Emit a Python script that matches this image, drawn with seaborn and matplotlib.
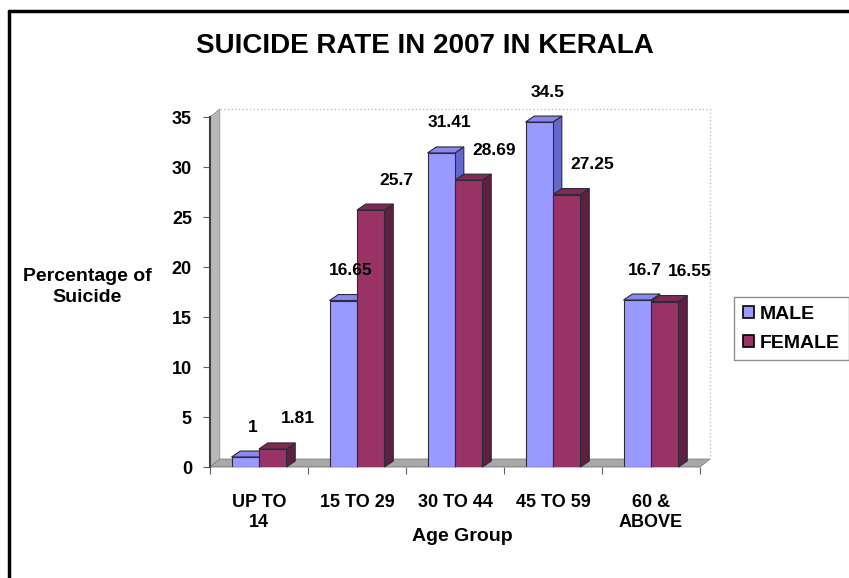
import pandas as pd
import matplotlib.pyplot as plt
import seaborn as sns
from matplotlib.patches import Polygon, Patch
from matplotlib.lines import Line2D

# chart values
age_groups = ['UP TO\n14', '15 TO 29', '30 TO 44', '45 TO 59', '60 &\nABOVE']
male = [1, 16.65, 31.41, 34.5, 16.7]
female = [1.81, 25.7, 28.69, 27.25, 16.55]
series = ['MALE', 'FEMALE']
colors = {'MALE': '#9999FF', 'FEMALE': '#993366'}
side_colors = {'MALE': '#6666CC', 'FEMALE': '#5E1F40'}
top_colors = {'MALE': '#8888EE', 'FEMALE': '#7E2A52'}

df = pd.DataFrame({
    'Age Group': age_groups * 2,
    'Sex': ['MALE'] * len(male) + ['FEMALE'] * len(female),
    'Value': male + female,
})

sns.set_style('white')
plt.rcParams['font.family'] = ['Liberation Sans', 'DejaVu Sans']
plt.rcParams['font.weight'] = 'bold'
for key in ['text.color', 'axes.labelcolor', 'xtick.color', 'ytick.color']:
    plt.rcParams[key] = 'black'

fig = plt.figure(figsize=(8.49, 5.78), dpi=100)
ax = fig.add_axes([0.2473, 0.192, 0.5772, 0.6055])

sns.barplot(data=df, x='Age Group', y='Value', hue='Sex', palette=colors,
            saturation=1, width=0.56, edgecolor='#2a2a3a', linewidth=0.8,
            legend=False, ax=ax, zorder=3)

ax.set_xlim(-0.5, 4.5)
ax.set_ylim(0, 35)

# walls of the 3D box
wdx, wdy = 0.1, 0.8
ax.add_patch(Polygon([(-0.5, 0), (-0.5 + wdx, wdy), (-0.5 + wdx, 35 + wdy), (-0.5, 35)],
                     closed=True, facecolor='#b8b8b8', edgecolor='#909090', lw=0.6,
                     clip_on=False, zorder=1))
ax.add_patch(Polygon([(-0.5, 0), (4.5, 0), (4.5 + wdx, wdy), (-0.5 + wdx, wdy)],
                     closed=True, facecolor='#a8a8a8', edgecolor='#808080', lw=0.6,
                     clip_on=False, zorder=1))
ax.add_patch(Polygon([(-0.5 + wdx, 35 + wdy), (4.5 + wdx, 35 + wdy), (4.5 + wdx, wdy)],
                     closed=False, fill=False, edgecolor='#c0c0c0', lw=1.0, ls=':',
                     clip_on=False, zorder=1))

# depth faces of the bars
bdx, bdy = 0.09, 0.6
for name, cont in zip(series, ax.containers):
    for bar in cont:
        x, w, h = bar.get_x(), bar.get_width(), bar.get_height()
        ax.add_patch(Polygon([(x + w, 0), (x + w + bdx, bdy), (x + w + bdx, h + bdy), (x + w, h)],
                             closed=True, facecolor=side_colors[name], edgecolor='#2a2a3a',
                             lw=0.8, clip_on=False, zorder=2))
        ax.add_patch(Polygon([(x, h), (x + bdx, h + bdy), (x + w + bdx, h + bdy), (x + w, h)],
                             closed=True, facecolor=top_colors[name], edgecolor='#2a2a3a',
                             lw=0.8, clip_on=False, zorder=2))

# value labels
label_dx = {'MALE': 0.08, 'FEMALE': 0.26}
for name, cont in zip(series, ax.containers):
    for bar in cont:
        h = bar.get_height()
        ax.text(bar.get_x() + bar.get_width() / 2 + label_dx[name], h + 3.0, f'{h:g}',
                ha='center', va='center', fontsize=12.5, fontweight='bold', clip_on=False)

for s in ['top', 'right', 'bottom']:
    ax.spines[s].set_visible(False)
ax.spines['left'].set_color('#404040')
ax.spines['left'].set_linewidth(1.5)

ax.set_yticks(range(0, 36, 5))
ax.set_xticks(range(5))
ax.set_xticks([i - 0.5 for i in range(6)], minor=True)
ax.tick_params(axis='y', which='major', left=True, length=5, width=0.8, color='#606060',
               labelsize=13, pad=8)
ax.tick_params(axis='x', which='major', bottom=False, labelsize=13, pad=16)
ax.tick_params(axis='x', which='minor', bottom=True, length=5, width=0.8, color='#606060')
for lbl in ax.get_xticklabels() + ax.get_yticklabels():
    lbl.set_fontweight('bold')
ax.axhline(0, color='#707070', lw=1, zorder=1)

ax.set_xlabel('')
ax.set_ylabel('')
fig.text(0.544, 0.071, 'Age Group', ha='center', va='center', fontsize=14, fontweight='bold')
fig.text(0.1025, 0.503, 'Percentage of\nSuicide', ha='center', va='center', fontsize=14,
         fontweight='bold', linespacing=1.3)
fig.text(0.5, 0.92, 'SUICIDE RATE IN 2007 IN KERALA', ha='center', va='center',
         fontsize=20, fontweight='bold')

handles = [Patch(facecolor=colors[s], edgecolor='black', lw=1.2) for s in series]
fig.legend(handles, series, loc='upper left', bbox_to_anchor=(0.8645, 0.486),
           frameon=True, fancybox=False, edgecolor='#909090', framealpha=1,
           prop={'size': 14, 'weight': 'bold'}, handlelength=0.6, handleheight=0.6,
           handletextpad=0.3, borderpad=0.45, labelspacing=0.6, borderaxespad=0)

# slide frame lines
fig.add_artist(Line2D([0.011, 1.0], [0.981, 0.981], color='black', lw=2.5))
fig.add_artist(Line2D([0.011, 0.011], [0.0, 0.981], color='black', lw=2.5))

fig.savefig('out.png', dpi=100)
